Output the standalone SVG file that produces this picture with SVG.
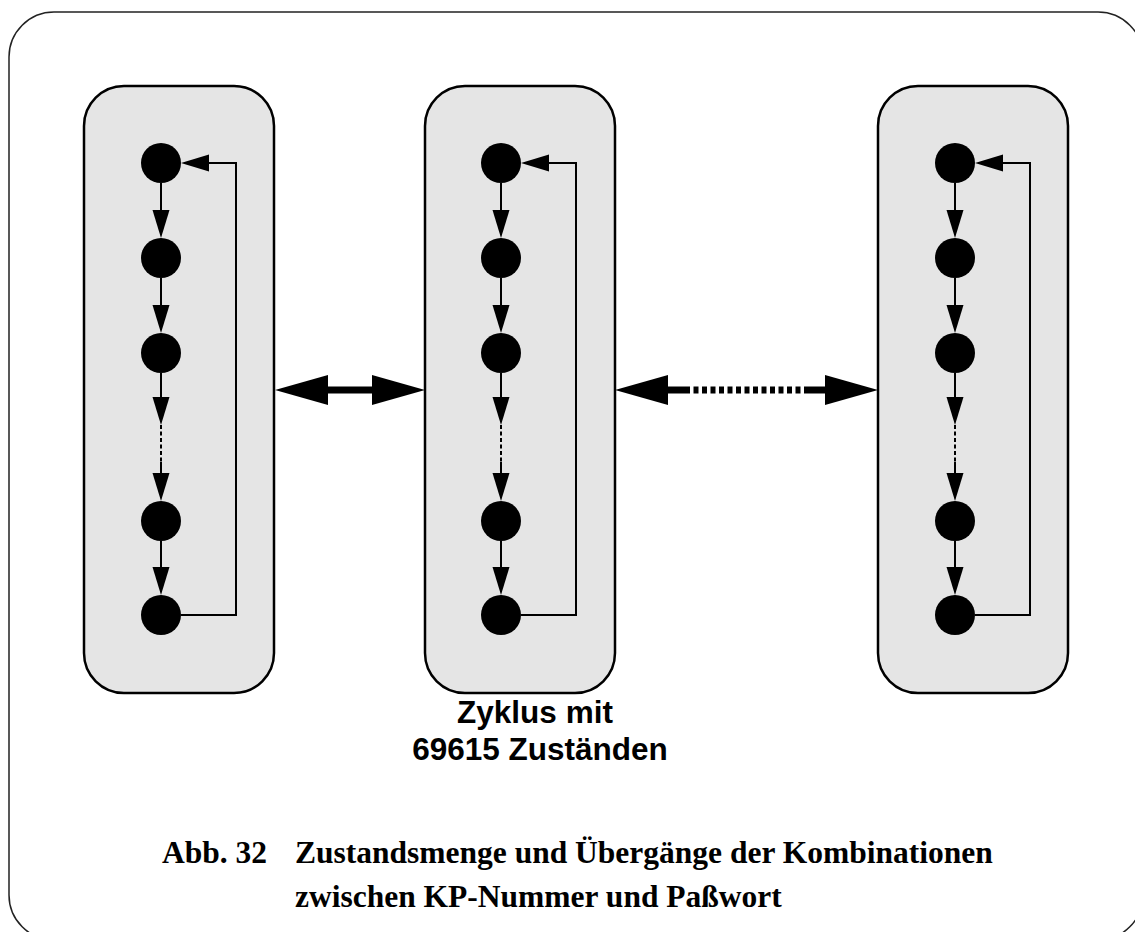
<svg xmlns="http://www.w3.org/2000/svg" width="1135" height="932" viewBox="0 0 1135 932">
  <style>
    .frame { fill: #ffffff; stroke: #222222; stroke-width: 1.5; }
    .box { fill: #e5e5e5; stroke: #000000; stroke-width: 2.5; }
    .node { fill: #000000; }
    .edge { fill: none; stroke: #000000; stroke-width: 2; }
    .dots { fill: none; stroke: #000000; stroke-width: 2; stroke-dasharray: 4 2.5; }
    .head { fill: #000000; }
    .shaft { fill: none; stroke: #000000; stroke-width: 7; }
    .shaft-dash { fill: none; stroke: #000000; stroke-width: 7; stroke-dasharray: 5 3.5; }
    .label { font-family: "Liberation Sans", Arial, sans-serif; font-weight: bold; font-size: 31.5px; fill: #000000; text-anchor: middle; }
    .caption { font-family: "Liberation Serif", "Times New Roman", serif; font-weight: bold; font-size: 31.5px; fill: #000000; }
  </style>
  <defs>
    <!-- one cycle of states: five nodes, the chain of arrows and the return loop -->
    <g id="cycle">
      <circle class="node" cx="0" cy="163" r="20"/>
      <circle class="node" cx="0" cy="258" r="20"/>
      <circle class="node" cx="0" cy="353" r="20"/>
      <circle class="node" cx="0" cy="521" r="20"/>
      <circle class="node" cx="0" cy="615" r="20"/>
      <!-- downward transitions -->
      <line class="edge" x1="0" y1="183" x2="0" y2="212"/>
      <polygon class="head" points="-8.5,210 8.5,210 0,238"/>
      <line class="edge" x1="0" y1="278" x2="0" y2="307"/>
      <polygon class="head" points="-8.5,305 8.5,305 0,333"/>
      <line class="edge" x1="0" y1="373" x2="0" y2="399"/>
      <polygon class="head" points="-8.5,397 8.5,397 0,425"/>
      <line class="dots" x1="0" y1="425" x2="0" y2="462"/>
      <line class="edge" x1="0" y1="462" x2="0" y2="475"/>
      <polygon class="head" points="-8.5,473 8.5,473 0,501"/>
      <line class="edge" x1="0" y1="541" x2="0" y2="569"/>
      <polygon class="head" points="-8.5,567 8.5,567 0,595"/>
      <!-- return from last state to first -->
      <polyline class="edge" points="20,615 75,615 75,163 46,163"/>
      <polygon class="head" points="48,154.5 48,171.5 20,163"/>
    </g>
  </defs>

  <rect class="frame" x="9" y="12" width="1134" height="928" rx="45" ry="45"/>

  <g id="group-left">
    <rect class="box" x="84" y="86" width="190" height="607" rx="40" ry="40"/>
    <use href="#cycle" x="161"/>
  </g>

  <g id="group-middle">
    <rect class="box" x="425" y="86" width="190" height="607" rx="40" ry="40"/>
    <use href="#cycle" x="501"/>
  </g>

  <g id="group-right">
    <rect class="box" x="878" y="86" width="190" height="607" rx="40" ry="40"/>
    <use href="#cycle" x="955"/>
  </g>

  <g id="connectors">
    <!-- solid double arrow between left and middle cycles -->
    <line class="shaft" x1="326" y1="390" x2="374" y2="390"/>
    <polygon class="head" points="275,390 328,375 328,405"/>
    <polygon class="head" points="425,390 372,375 372,405"/>
    <!-- interrupted double arrow between middle and right cycles -->
    <line class="shaft" x1="666" y1="390" x2="685" y2="390"/>
    <line class="shaft-dash" x1="685" y1="390" x2="805" y2="390"/>
    <line class="shaft" x1="805" y1="390" x2="827" y2="390"/>
    <polygon class="head" points="615,390 668,375 668,405"/>
    <polygon class="head" points="878,390 825,375 825,405"/>
  </g>

  <g id="cycle-label">
    <text class="label" x="535" y="723">Zyklus mit</text>
    <text class="label" x="540" y="760">69615 Zuständen</text>
  </g>

  <g id="caption">
    <text class="caption" x="162" y="863">Abb. 32</text>
    <text class="caption" x="295" y="863">Zustandsmenge und Übergänge der Kombinationen</text>
    <text class="caption" x="295" y="907">zwischen KP-Nummer und Paßwort</text>
  </g>
</svg>
